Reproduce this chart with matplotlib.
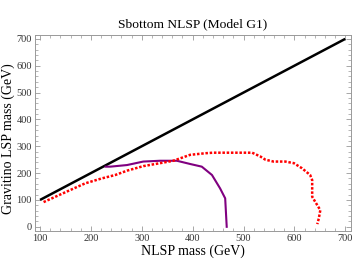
import matplotlib

matplotlib.use("Agg")
import matplotlib.pyplot as plt
from matplotlib.ticker import MultipleLocator

# Diagonal m_LSP = m_NLSP
diag_x = [100, 700]
diag_y = [100, 700]

# Purple solid contour
purple_x = [229, 238, 271, 303, 336, 369, 395, 418, 438, 454, 464, 467]
purple_y = [224, 224, 230, 243, 246, 246, 234, 224, 193, 143, 106, 0]

# Red dotted contour
red_x = [107, 156, 189, 221, 248, 271, 303, 336, 362, 395, 425, 440, 517,
         533, 543, 559, 582, 599, 615, 631, 635, 635, 641, 651, 648, 645]
red_y = [92, 134, 162, 180, 193, 209, 226, 237, 246, 268, 274, 276, 276,
         262, 250, 243, 243, 237, 218, 193, 174, 112, 93, 62, 31, 10]

x_ticks = [100, 200, 300, 400, 500, 600, 700]
y_ticks = [0, 100, 200, 300, 400, 500, 600, 700]

plt.rcParams["font.family"] = ["Liberation Serif", "DejaVu Serif"]

fig = plt.figure(figsize=(3.58, 2.62), dpi=100)
ax = fig.add_axes([0.097, 0.118, 0.883, 0.750])

ax.plot(diag_x, diag_y, color="black", lw=1.8, solid_capstyle="butt")
ax.plot(purple_x, purple_y, color="#800080", lw=1.5)
ax.plot(red_x, red_y, color="#ff0000", lw=1.8, linestyle=(0, (1, 0.7)))

ax.set_xlim(89.6, 711)
ax.set_ylim(-16, 716)
ax.set_xticks(x_ticks)
ax.set_yticks(y_ticks)
ax.xaxis.set_minor_locator(MultipleLocator(20))
ax.yaxis.set_minor_locator(MultipleLocator(20))
ax.tick_params(which="both", direction="in", top=True, right=True,
               color="#999999", labelsize=7.5, labelcolor="#333333", pad=2)
ax.tick_params(which="major", length=3.5, width=0.6)
ax.tick_params(which="minor", length=2, width=0.5)
for s in ax.spines.values():
    s.set_color("#999999")
    s.set_linewidth(0.7)

ax.set_title("Sbottom NLSP (Model G1)", fontsize=9.7, pad=5)
ax.set_xlabel("NLSP mass (GeV)", fontsize=10, labelpad=1)
ax.set_ylabel("Gravitino LSP mass (GeV)", fontsize=10, labelpad=1)
ax.yaxis.label.set_y(0.47)

fig.savefig("out.png", dpi=100)
